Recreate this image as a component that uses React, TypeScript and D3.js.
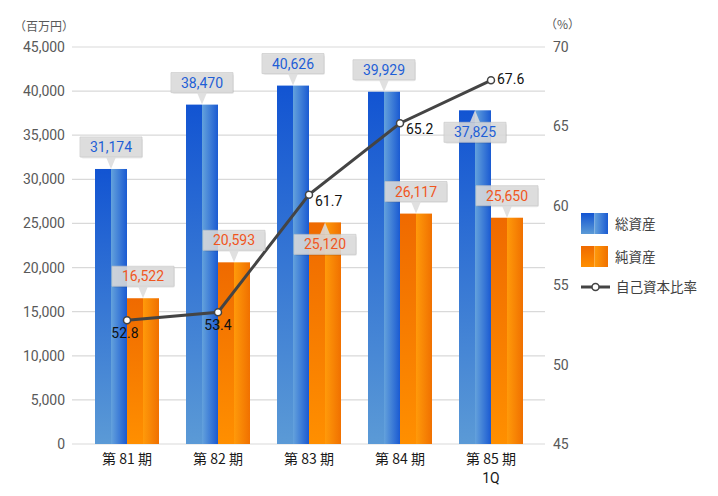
import React from 'react'
import * as d3 from 'd3'

const categories = ['第 81 期', '第 82 期', '第 83 期', '第 84 期', '第 85 期\n1Q']
const totalAssets = [31174, 38470, 40626, 39929, 37825]
const netAssets = [16522, 20593, 25120, 26117, 25650]
// labels printed on the chart
const equityRatio = [52.8, 53.4, 61.7, 65.2, 67.6]
// where the source picture actually places the points on the % axis
const equityRatioPlotted = [52.8, 53.3, 60.7, 65.2, 67.9]
const leftTicks = [0, 5000, 10000, 15000, 20000, 25000, 30000, 35000, 40000, 45000]
const rightTicks = [45, 50, 55, 60, 65, 70]
// callout below bar top (pointer up) for these
const blueBelow = [false, false, false, false, true]
const orangeBelow = [false, false, true, false, false]
// ratio label placement
const ratioPos = ['below', 'below', 'right', 'right', 'right']

const FONT = 'Roboto, "Noto Sans CJK JP", sans-serif'
const JP = '"Noto Sans CJK JP", Roboto, sans-serif'

const W = 718
const H = 496
const plot = { left: 72, right: 545, top: 47, bottom: 444 }

const x = d3.scaleBand<string>().domain(categories).range([81.5, 536.5])
const yL = d3.scaleLinear().domain([0, 45000]).range([plot.bottom, plot.top])
const yR = d3.scaleLinear().domain([45, 70]).range([plot.bottom, plot.top])
const barW = 32

const fmt = d3.format(',')

function Callout({ cx, tip, below, text, color }: { cx: number; tip: number; below: boolean; text: string; color: string }) {
  const bw = 62
  const bh = 20
  const ph = 12
  const by = below ? tip + ph : tip - ph - bh
  const base = below ? by : by + bh
  return (
    <g>
      <rect x={cx - bw / 2 + 1} y={by + 1.5} width={bw} height={bh} rx={2} fill="#000" opacity={0.08} />
      <path
        d={`M${cx - bw / 2},${by}h${bw}v${bh}h${-bw}Z`}
        fill="#dcdcdc"
        opacity={0.88}
        stroke="#c8c8c8"
        strokeWidth={0.8}
      />
      <path d={`M${cx - 5},${base}L${cx},${tip}L${cx + 5},${base}Z`} fill="#dcdcdc" opacity={0.88} />
      <text x={cx} y={by + bh / 2} dy="0.36em" textAnchor="middle" fontSize={14} fill={color} fontFamily={FONT}>
        {text}
      </text>
    </g>
  )
}

export default function App() {
  const centers = categories.map((c) => (x(c) || 0) + x.bandwidth() / 2)
  const line = d3
    .line<number>()
    .x((_, i) => centers[i])
    .y((d) => yR(d))

  return (
    <svg width={W} height={H} style={{ position: 'absolute', left: 0, top: 0, background: '#fff' }}>
      <defs>
        <linearGradient id="blueL" x1="0" y1="0" x2="0" y2="1">
          <stop offset="0" stopColor="#1254d2" />
          <stop offset="1" stopColor="#5b9ad6" />
        </linearGradient>
        <linearGradient id="blueR" x1="0" y1="0" x2="1" y2="0">
          <stop offset="0" stopColor="#64a2dc" />
          <stop offset="1" stopColor="#1a5ad2" />
        </linearGradient>
        <linearGradient id="orL" x1="0" y1="0" x2="0" y2="1">
          <stop offset="0" stopColor="#ef6a00" />
          <stop offset="1" stopColor="#ff8f00" />
        </linearGradient>
        <linearGradient id="orR" x1="0" y1="0" x2="1" y2="0">
          <stop offset="0" stopColor="#ff9a0a" />
          <stop offset="1" stopColor="#f07000" />
        </linearGradient>
      </defs>

      {/* grid */}
      {leftTicks.map((t) => (
        <line key={t} x1={plot.left} x2={plot.right} y1={yL(t)} y2={yL(t)} stroke="#d9d9d9" strokeWidth={1.2} />
      ))}

      {/* left axis */}
      {leftTicks.map((t) => (
        <text key={t} x={65} y={yL(t)} dy="0.36em" textAnchor="end" fontSize={14} fill="#595959" fontFamily={FONT}>
          {fmt(t)}
        </text>
      ))}
      <text x={14} y={27} dy="0.36em" fontSize={12} fill="#595959" fontFamily={JP}>
        （百万円）
      </text>

      {/* right axis */}
      {rightTicks.map((t) => (
        <text key={t} x={553} y={yR(t)} dy="0.36em" fontSize={14} fill="#595959" fontFamily={FONT}>
          {t}
        </text>
      ))}
      <text x={545} y={25} dy="0.36em" fontSize={12} fill="#595959" fontFamily={JP}>
        （%）
      </text>

      {/* bars */}
      {categories.map((c, i) => {
        const cx = centers[i]
        const bx = cx - barW
        const ox = cx
        const by = yL(totalAssets[i])
        const oy = yL(netAssets[i])
        return (
          <g key={c}>
            <rect x={bx} y={by} width={barW / 2} height={plot.bottom - by} fill="url(#blueL)" />
            <rect x={bx + barW / 2} y={by} width={barW / 2} height={plot.bottom - by} fill="url(#blueR)" />
            <rect x={ox} y={oy} width={barW / 2} height={plot.bottom - oy} fill="url(#orL)" />
            <rect x={ox + barW / 2} y={oy} width={barW / 2} height={plot.bottom - oy} fill="url(#orR)" />
          </g>
        )
      })}

      {/* x labels */}
      {categories.map((c, i) =>
        c.split('\n').map((s, j) => (
          <text
            key={c + j}
            x={centers[i]}
            y={459 + j * 19}
            dy="0.36em"
            textAnchor="middle"
            fontSize={14}
            fill="#1a1a1a"
            fontFamily={j === 0 ? JP : FONT}
          >
            {s}
          </text>
        ))
      )}

      {/* ratio line */}
      <path d={line(equityRatioPlotted) || ''} fill="none" stroke="#444" strokeWidth={3} />
      {equityRatioPlotted.map((v, i) => (
        <circle key={i} cx={centers[i]} cy={yR(v)} r={3.5} fill="#fff" stroke="#444" strokeWidth={1.5} />
      ))}
      {equityRatio.map((v, i) => {
        const py = yR(equityRatioPlotted[i])
        return ratioPos[i] === 'right' ? (
          <text
            key={i}
            x={centers[i] + 6}
            y={py + (i === equityRatio.length - 1 ? -1 : 6)}
            dy="0.36em"
            fontSize={14}
            fill="#111"
            fontFamily={FONT}
          >
            {v.toFixed(1)}
          </text>
        ) : (
          <text
            key={i}
            x={centers[i] + (i === 0 ? -2 : 0)}
            y={py + 13}
            dy="0.36em"
            textAnchor="middle"
            fontSize={14}
            fill="#111"
            fontFamily={FONT}
          >
            {v.toFixed(1)}
          </text>
        )
      })}

      {/* callouts */}
      {categories.map((c, i) => (
        <g key={c}>
          <Callout
            cx={centers[i] - barW / 2}
            tip={yL(totalAssets[i])}
            below={blueBelow[i]}
            text={fmt(totalAssets[i])}
            color="#1f5fd6"
          />
          <Callout
            cx={centers[i] + barW / 2}
            tip={yL(netAssets[i])}
            below={orangeBelow[i]}
            text={fmt(netAssets[i])}
            color="#f0561e"
          />
        </g>
      ))}

      {/* legend */}
      <rect x={581} y={213} width={13.5} height={21} fill="url(#blueL)" />
      <rect x={594.5} y={213} width={13.5} height={21} fill="url(#blueR)" />
      <text x={615} y={224} dy="0.36em" fontSize={13.5} fill="#404040" fontFamily={JP}>
        総資産
      </text>
      <rect x={581} y={246} width={13.5} height={21} fill="url(#orL)" />
      <rect x={594.5} y={246} width={13.5} height={21} fill="url(#orR)" />
      <text x={615} y={257} dy="0.36em" fontSize={13.5} fill="#404040" fontFamily={JP}>
        純資産
      </text>
      <line x1={581} x2={610} y1={287} y2={287} stroke="#444" strokeWidth={3} />
      <circle cx={595.5} cy={287} r={3.5} fill="#fff" stroke="#444" strokeWidth={1.5} />
      <text x={616} y={287} dy="0.36em" fontSize={13.5} fill="#404040" fontFamily={JP}>
        自己資本比率
      </text>
    </svg>
  )
}
